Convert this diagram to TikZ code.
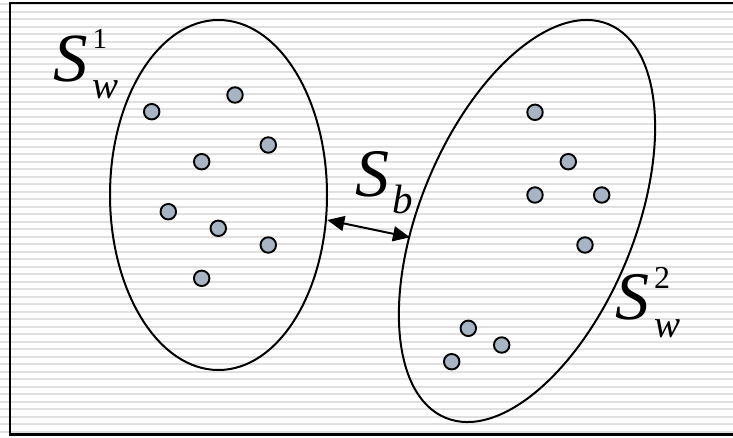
\documentclass[tikz,border=0pt]{standalone}
\usepackage{fontspec}
\setmainfont{Liberation Serif}
\usetikzlibrary{arrows.meta,shapes.geometric}
\definecolor{dotfill}{RGB}{166,180,196}
\definecolor{stripe}{RGB}{224,224,224}
\begin{document}
\begin{tikzpicture}[x=1pt,y=1pt,
  dot/.style={circle, draw=black, line width=1.9pt, fill=dotfill, minimum size=15.5pt, inner sep=0pt},
  cluster/.style={ellipse, draw=black, line width=2pt, inner sep=0pt},
  lbl/.style={anchor=base west, inner sep=0pt},
  sep/.style={line width=2pt, {Triangle[length=17pt,width=15pt]}-{Triangle[length=17pt,width=15pt]}}]
\useasboundingbox (0,0) rectangle (733,-437);
\fill[white] (0,0) rectangle (733,-437);
\foreach \k in {0,...,57} \draw[stripe, line width=1.6pt] (0,{-4.2-7.5*\k}) -- (733,{-4.2-7.5*\k});
\draw[line width=2.2pt] (745,-3) -- (10,-3) -- (10,-434.5) -- (745,-434.5);
% clusters
\node[cluster, minimum width=217pt, minimum height=350pt] (c1) at (218.5,-195) {};
\node[cluster, minimum width=426pt, minimum height=214pt, rotate=67.5] (c2) at (527,-221) {};
% points of cluster 1
\node[dot] (p1) at (151.7,-111.7) {};
\node[dot] (p2) at (235,-95) {};
\node[dot] (p3) at (268.3,-145) {};
\node[dot] (p4) at (201.7,-161.7) {};
\node[dot] (p5) at (168.3,-211.7) {};
\node[dot] (p6) at (218.3,-228.3) {};
\node[dot] (p7) at (268.3,-245) {};
\node[dot] (p8) at (201.7,-278.3) {};
% points of cluster 2
\node[dot] (q1) at (535,-112.3) {};
\node[dot] (q2) at (568.3,-161.7) {};
\node[dot] (q3) at (535,-195) {};
\node[dot] (q4) at (601.7,-195) {};
\node[dot] (q5) at (585,-245) {};
\node[dot] (q6) at (468.3,-328.3) {};
\node[dot] (q7) at (501.7,-345) {};
\node[dot] (q8) at (451.7,-361.7) {};
% labels
\node[lbl] (l1) at (53,-81.5) {{\fontsize{69pt}{69pt}\selectfont\itshape S}\kern5pt\rlap{\raisebox{33pt}{\fontsize{29pt}{29pt}\selectfont 1}}\raisebox{-17pt}{\fontsize{39pt}{39pt}\selectfont\itshape w}};
\node[lbl] (lb) at (355,-196) {{\fontsize{68pt}{68pt}\selectfont\itshape S}\kern3pt\raisebox{-17pt}{\fontsize{41pt}{41pt}\selectfont\itshape b}};
\node[lbl] (l2) at (615,-319) {{\fontsize{68pt}{68pt}\selectfont\itshape S}\kern5pt\rlap{\raisebox{31pt}{\fontsize{32pt}{32pt}\selectfont 2}}\raisebox{-18pt}{\fontsize{39pt}{39pt}\selectfont\itshape w}};
% between-class arrow
\coordinate (a1) at (327.3,-220);
\coordinate (a2) at (410,-237.3);
\draw[sep] (a1) -- (a2);
\end{tikzpicture}
\end{document}
